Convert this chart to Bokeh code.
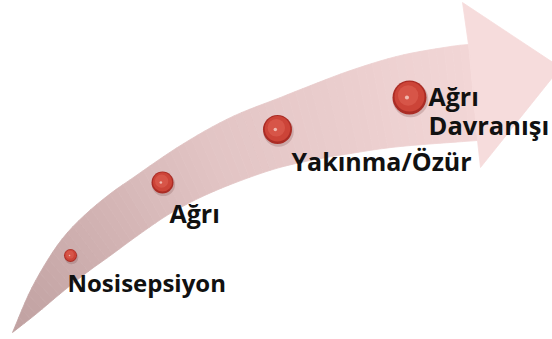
import numpy as np
from bokeh.plotting import figure
from bokeh.models import Range1d, ColumnDataSource
from bokeh.core.properties import value
from bokeh.embed import file_html
from bokeh.resources import INLINE

W, H = 552, 339

# ---- stages (ordered along the arrow) ----
stages = ["Nosisepsiyon", "Ağrı", "Yakınma/Özür", "Ağrı Davranışı"]
ball_x = [70, 162, 277, 409]
ball_y = [255, 182, 129, 97]
ball_r = [6.5, 11, 14.5, 17]

# ---- label lines ----
label_lines = ["Nosisepsiyon", "Ağrı", "Yakınma/Özür", "Ağrı", "Davranışı"]
label_x = [67, 169, 291, 428, 428]
label_y = [282, 212, 160, 95, 124]
label_size = ["24px", "25px", "25px", "25px", "25.5px"]

# ---- arrow outline (pixel space, y downward) ----
upper_x = [12, 30, 50, 67, 87, 110, 130, 180, 230, 280, 300, 350, 400, 450, 468]
upper_y = [332, 290, 255, 232, 212, 193, 179, 145, 117, 97, 89, 70, 55, 46, 44]
lower_x = [12, 35, 60, 85, 110, 140, 173, 213, 263, 300, 350, 400, 477]
lower_y = [332, 314, 293, 273, 255, 233, 211, 191, 172, 162, 153, 146, 140]
head_x = [468, 462, 560, 480, 477]
head_y = [44, 2, 67, 167, 140]

tail_rgb = (192, 160, 160)
mid_rgb = (226, 196, 196)
end_rgb = (242, 214, 214)
head_rgb = (246, 220, 220)


def catmull(xs, ys, per=20):
    pts = np.column_stack([xs, ys]).astype(float)
    pts = np.vstack([2 * pts[0] - pts[1], pts, 2 * pts[-1] - pts[-2]])
    out = []
    for i in range(1, len(pts) - 2):
        p0, p1, p2, p3 = pts[i - 1], pts[i], pts[i + 1], pts[i + 2]
        for t in np.linspace(0, 1, per, endpoint=False):
            t2, t3 = t * t, t * t * t
            out.append(0.5 * ((2 * p1) + (-p0 + p2) * t
                              + (2 * p0 - 5 * p1 + 4 * p2 - p3) * t2
                              + (-p0 + 3 * p1 - 3 * p2 + p3) * t3))
    out.append(pts[-2])
    return np.array(out)


def resample(curve, n):
    d = np.r_[0, np.cumsum(np.hypot(*np.diff(curve, axis=0).T))]
    s = np.linspace(0, d[-1], n)
    return np.column_stack([np.interp(s, d, curve[:, 0]), np.interp(s, d, curve[:, 1])])


def mix(a, b, t):
    return tuple(int(round(a[k] + (b[k] - a[k]) * t)) for k in range(3))


def hexc(c):
    return "#%02x%02x%02x" % c


N = 70
up = resample(catmull(upper_x, upper_y), N)
lo = resample(catmull(lower_x, lower_y), N)

xs_list, ys_list, cols = [], [], []
for i in range(N - 1):
    t = (i + 0.5) / (N - 1)
    if t < 0.5:
        c = mix(tail_rgb, mid_rgb, t / 0.5)
    else:
        c = mix(mid_rgb, end_rgb, (t - 0.5) / 0.5)
    xs_list.append([up[i, 0], up[i + 1, 0], lo[i + 1, 0], lo[i, 0]])
    ys_list.append([up[i, 1], up[i + 1, 1], lo[i + 1, 1], lo[i, 1]])
    cols.append(hexc(c))

p = figure(width=W, height=H, x_range=Range1d(0, W), y_range=Range1d(H, 0),
           output_backend="svg", toolbar_location=None, min_border=0,
           x_axis_type=None, y_axis_type=None)
p.grid.visible = False
p.outline_line_color = None
p.background_fill_color = "white"
p.border_fill_color = "white"

p.patches(xs_list, ys_list, fill_color=cols, line_color=cols, line_width=0.8)
p.patch(head_x, head_y, fill_color=hexc(head_rgb), line_color=hexc(head_rgb), line_width=0.8)

# ---- balls ----
bx = np.array(ball_x, float)
by = np.array(ball_y, float)
br = np.array(ball_r, float)
p.circle(bx + 1, by + 2, radius=br * 1.05, fill_color="#7a4a4a", fill_alpha=0.25, line_color=None)
p.circle(bx, by, radius=br, fill_color="#aa2c25", line_color=None)
p.circle(bx, by - br * 0.05, radius=br * 0.88, fill_color="#cc4438", line_color=None)
p.circle(bx - br * 0.08, by - br * 0.12, radius=br * 0.6, fill_color="#da5a4c", fill_alpha=0.8, line_color=None)
p.circle(bx - br * 0.15, by, radius=br * 0.12, fill_color="#f0b8ae", line_color=None)

# ---- labels ----
src = ColumnDataSource(dict(x=label_x, y=label_y, t=label_lines, s=label_size))
p.text(x="x", y="y", text="t", source=src, text_font=value("Open Sans"),
       text_font_style="bold", text_font_size="s", text_color="#111111",
       text_baseline="alphabetic", text_align="left")

open("out.html", "w").write(file_html(p, INLINE))
